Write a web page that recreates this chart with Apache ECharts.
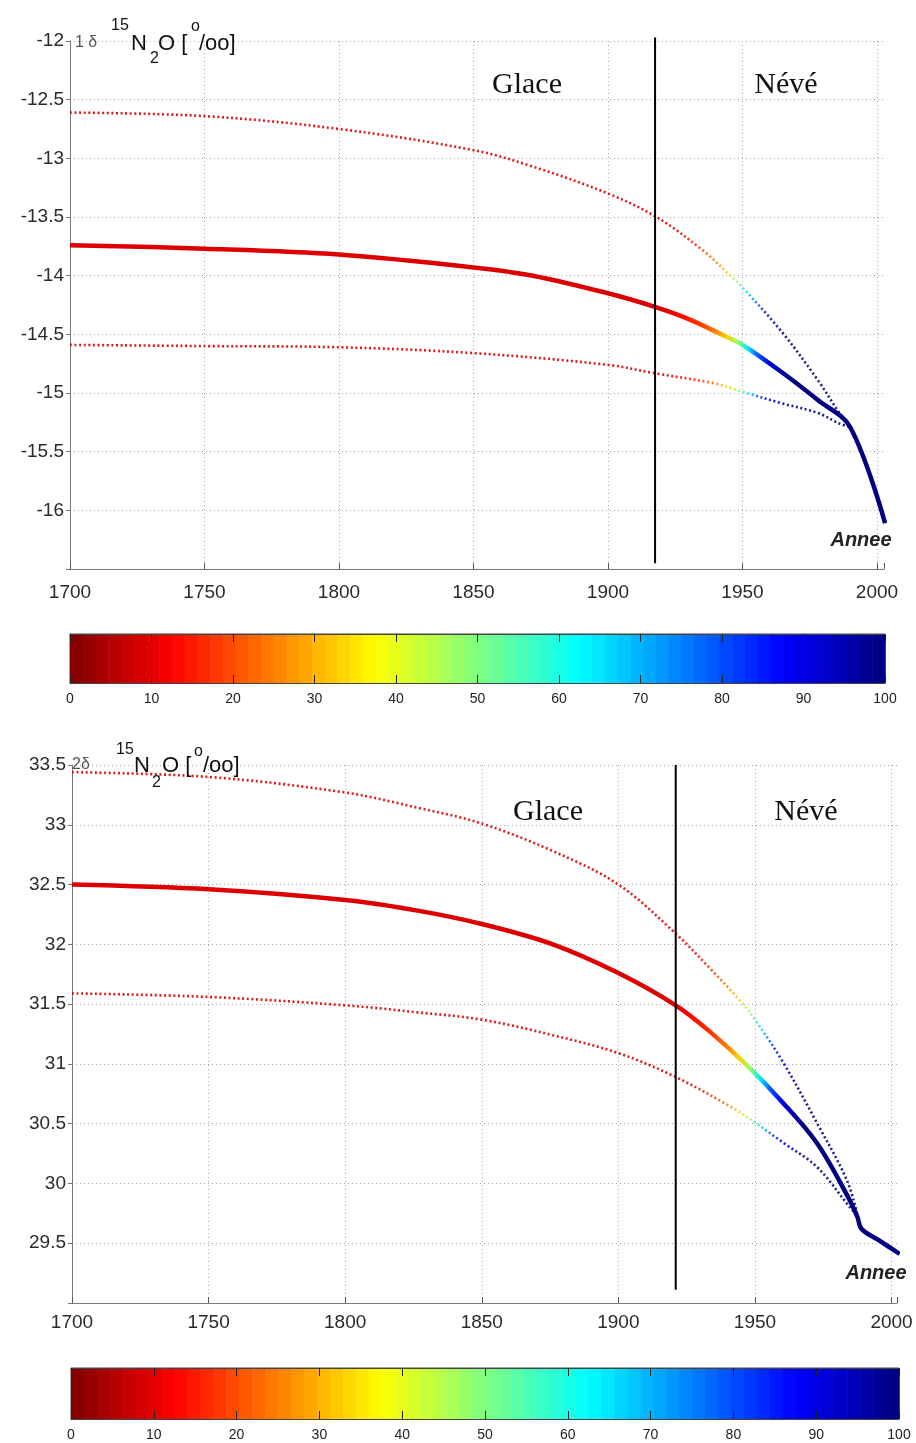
<!DOCTYPE html>
<html><head><meta charset="utf-8">
<script src="https://cdn.jsdelivr.net/npm/echarts@6/dist/echarts.min.js"></script>
<style>html,body{margin:0;padding:0;background:#fff}#c{width:916px;height:1443px}</style>
</head><body><div id="c"></div>
<script>
// ---------- Panel 1 : 1 δ15N2O ----------
const topUpperYears = [1700,1750,1800,1850,1872,1900,1918,1935,1946,1950,1965,1978,1986,1990];
const topUpperVals  = [-12.61,-12.64,-12.75,-12.93,-13.07,-13.30,-13.50,-13.78,-14.01,-14.10,-14.49,-14.89,-15.17,-15.29];
const topMidYears   = [1700,1750,1800,1850,1872,1900,1918,1930,1944,1950,1965,1978,1990,2003];
const topMidVals    = [-13.74,-13.77,-13.82,-13.93,-14.00,-14.15,-14.27,-14.37,-14.52,-14.59,-14.83,-15.06,-15.29,-16.11];
const topLowerYears = [1700,1750,1800,1850,1900,1917,1940,1950,1965,1978,1986,1990];
const topLowerVals  = [-14.59,-14.60,-14.61,-14.66,-14.76,-14.83,-14.92,-14.99,-15.09,-15.17,-15.26,-15.29];
const topBoundaryYear = 1917.5;

// ---------- Panel 2 : 2 δ15N2O ----------
const botUpperYears = [1700,1750,1800,1827,1850,1876,1900,1921,1933.5,1944.5,1950,1960.4,1972.6,1983.6,1987.5];
const botUpperVals  = [33.44,33.40,33.27,33.14,33.01,32.78,32.50,32.09,31.80,31.53,31.37,31.01,30.51,30.03,29.74];
const botMidYears   = [1700,1750,1800,1827,1850,1876,1900,1921,1933.5,1947,1959.2,1972.6,1984,1987.5,1989,1995,2003];
const botMidVals    = [32.50,32.46,32.37,32.28,32.17,32.00,31.76,31.49,31.27,30.99,30.70,30.34,29.89,29.72,29.62,29.53,29.41];
const botLowerYears = [1700,1750,1800,1827,1850,1876,1900,1921,1942,1950,1960.4,1972.6,1984.8,1987.5];
const botLowerVals  = [31.59,31.56,31.49,31.43,31.37,31.24,31.09,30.89,30.63,30.51,30.34,30.14,29.80,29.73];
const botBoundaryYear = 1921;

// colour scale (0..100) ticks
const colorbarTicks = [0,10,20,30,40,50,60,70,80,90,100];

// year -> colour (reversed jet), used by the visualMap
const yearColors = ['#dc0000','#f00000','#ff0f00','#ff2400','#ff4c00','#ff8000','#ffd100','#9eff61','#00e6ff','#004cff','#0000e6','#0000a8','#000080'];

function jetR(v){ // reversed MATLAB jet, v in 0..100
  const t = 1 - v/100;
  const c = x => Math.max(0, Math.min(1, x));
  const r = c(1.5 - Math.abs(4*t-3)), g = c(1.5 - Math.abs(4*t-2)), b = c(1.5 - Math.abs(4*t-1));
  return 'rgb(' + Math.round(r*255) + ',' + Math.round(g*255) + ',' + Math.round(b*255) + ')';
}
const nBands = 64;
const bands = Array.from({length:nBands}, (_, i) => [i*100/nBands, (i+1)*100/nBands]);

const FONT = "'Liberation Sans', Arial, sans-serif";

function curve(xi, years, vals, dotted){
  return {
    type:'line', xAxisIndex:xi, yAxisIndex:xi,
    data: years.map((y,i)=>[y, vals[i]]),
    showSymbol:false, smooth:0.35, silent:true,
    lineStyle: dotted ? {width:2.6, type:[2,2.6], opacity:0.9} : {width:4.5},
    z: dotted ? 3 : 4
  };
}
function boundary(xi, year, y0, y1){
  return {type:'line', xAxisIndex:xi, yAxisIndex:xi, data:[[year,y0],[year,y1]],
    showSymbol:false, clip:false, silent:true, lineStyle:{color:'#000', width:2}, itemStyle:{color:'#000'}, z:6};
}
function xAx(grid, max, margin){
  return {gridIndex:grid, type:'value', min:1700, max:max, interval:50,
    axisLine:{onZero:false, lineStyle:{color:'#777', width:1}},
    axisTick:{inside:true, length:6, lineStyle:{color:'#555'}},
    axisLabel:{fontSize:19, color:'#2a2a2a', fontFamily:FONT, margin:margin, formatter: v => (v % 50 === 0 ? String(v) : '')},
    splitLine:{show:true, showMaxLine:false, lineStyle:{color:'#a8a8a8', type:[1,3], width:1}}};
}
function yAx(grid, min, max){
  return {gridIndex:grid, type:'value', min:min, max:max, interval:0.5,
    axisLine:{onZero:false, lineStyle:{color:'#777', width:1}},
    axisTick:{show:true, length:4, lineStyle:{color:'#777'}},
    axisLabel:{fontSize:19, color:'#2a2a2a', fontFamily:FONT, margin:6, formatter: v => (Math.abs(v-min) < 1e-6 ? '' : String(v))},
    splitLine:{show:true, lineStyle:{color:'#a8a8a8', type:[1,3], width:1}}};
}
function cbX(grid, pos){
  return {gridIndex:grid, type:'value', min:0, max:100, interval:10, position:pos, z:10,
    axisLine:{show:true, onZero:false, lineStyle:{color:'#444'}},
    axisTick:{inside:true, length:8, lineStyle:{color:'#222', width:1}},
    axisLabel:{show: pos==='bottom', fontSize:14, color:'#222', fontFamily:"'Liberation Sans Narrow', 'Liberation Sans', Arial, sans-serif", margin:9},
    splitLine:{show:false}};
}
function cbY(grid){ return {gridIndex:grid, type:'value', min:0, max:1, show:false}; }
function colorbar(xi){
  return {type:'custom', xAxisIndex:xi, yAxisIndex:xi, silent:true, data:bands, z:0,
    renderItem:(params, api) => {
      const p0 = api.coord([api.value(0), 1]);
      const p1 = api.coord([api.value(1), 0]);
      const mid = (api.value(0)+api.value(1))/2;
      return {type:'rect', shape:{x:p0[0], y:p0[1], width:p1[0]-p0[0]+0.6, height:p1[1]-p0[1]}, style:{fill:jetR(mid)}};
    }};
}

function txt(x, y, text, size, opts){
  opts = opts || {};
  return {type:'text', x:x, y:y, z:100, silent:true,
    style:{text:text, fontSize:size, fontFamily:opts.family || FONT, fontStyle:opts.style || 'normal', fontWeight:opts.weight || 'normal',
      fill:opts.fill || '#111', align:opts.align || 'left', verticalAlign:'middle'}};
}
const SERIF = "'Liberation Serif', 'Times New Roman', serif";

const chart = echarts.init(document.getElementById('c'), null, {renderer:'canvas'});
chart.setOption({
  animation:false,
  backgroundColor:'#fff',
  grid:[
    {left:70, top:41, width:814, height:528},
    {left:72, top:765, width:825, height:538},
    {left:70, top:634, width:815, height:49, show:true, borderColor:'#444', borderWidth:1, backgroundColor:'transparent'},
    {left:71, top:1368, width:828, height:51, show:true, borderColor:'#444', borderWidth:1, backgroundColor:'transparent'}
  ],
  xAxis:[ xAx(0, 2002.6, 14), xAx(1, 2002, 10), cbX(2,'bottom'), cbX(3,'bottom'), cbX(2,'top'), cbX(3,'top') ],
  yAxis:[ yAx(0, -16.5, -12), yAx(1, 29, 33.5), cbY(2), cbY(3) ],
  visualMap:[{type:'continuous', show:false, dimension:0, seriesIndex:[0,1,2,3,4,5], min:1920, max:1968, inRange:{color:yearColors}}],
  series:[
    curve(0, topUpperYears, topUpperVals, true),
    curve(0, topLowerYears, topLowerVals, true),
    curve(0, topMidYears, topMidVals, false),
    curve(1, botUpperYears, botUpperVals, true),
    curve(1, botLowerYears, botLowerVals, true),
    curve(1, botMidYears, botMidVals, false),
    boundary(0, topBoundaryYear, -11.97, -16.45),
    boundary(1, botBoundaryYear, 33.5, 29.11),
    colorbar(2),
    colorbar(3)
  ],
  graphic:[
    // panel 1 labels
    txt(75, 43, '1 δ', 16, {fill:'#555'}),
    txt(111, 26, '15', 16),
    txt(131, 44, 'N', 22),
    txt(150, 59, '2', 16),
    txt(158, 44, 'O [', 22),
    txt(191, 27, 'o', 16),
    txt(199, 44, '/oo]', 22),
    txt(527, 85, 'Glace', 30, {family:SERIF, align:'center'}),
    txt(786, 85, 'Névé', 30, {family:SERIF, align:'center'}),
    txt(861, 540, 'Annee', 20, {style:'italic', weight:'bold', fill:'#222', align:'center'}),
    // panel 2 labels
    txt(72, 765, '2δ', 16, {fill:'#555'}),
    txt(116, 750, '15', 16),
    txt(134, 766, 'N', 22),
    txt(152, 783, '2', 16),
    txt(162, 766, 'O [', 22),
    txt(194, 752, 'o', 16),
    txt(203, 766, '/oo]', 22),
    txt(548, 812, 'Glace', 30, {family:SERIF, align:'center'}),
    txt(806, 812, 'Névé', 30, {family:SERIF, align:'center'}),
    txt(876, 1273, 'Annee', 20, {style:'italic', weight:'bold', fill:'#222', align:'center'})
  ]
});
</script>
</body></html>
